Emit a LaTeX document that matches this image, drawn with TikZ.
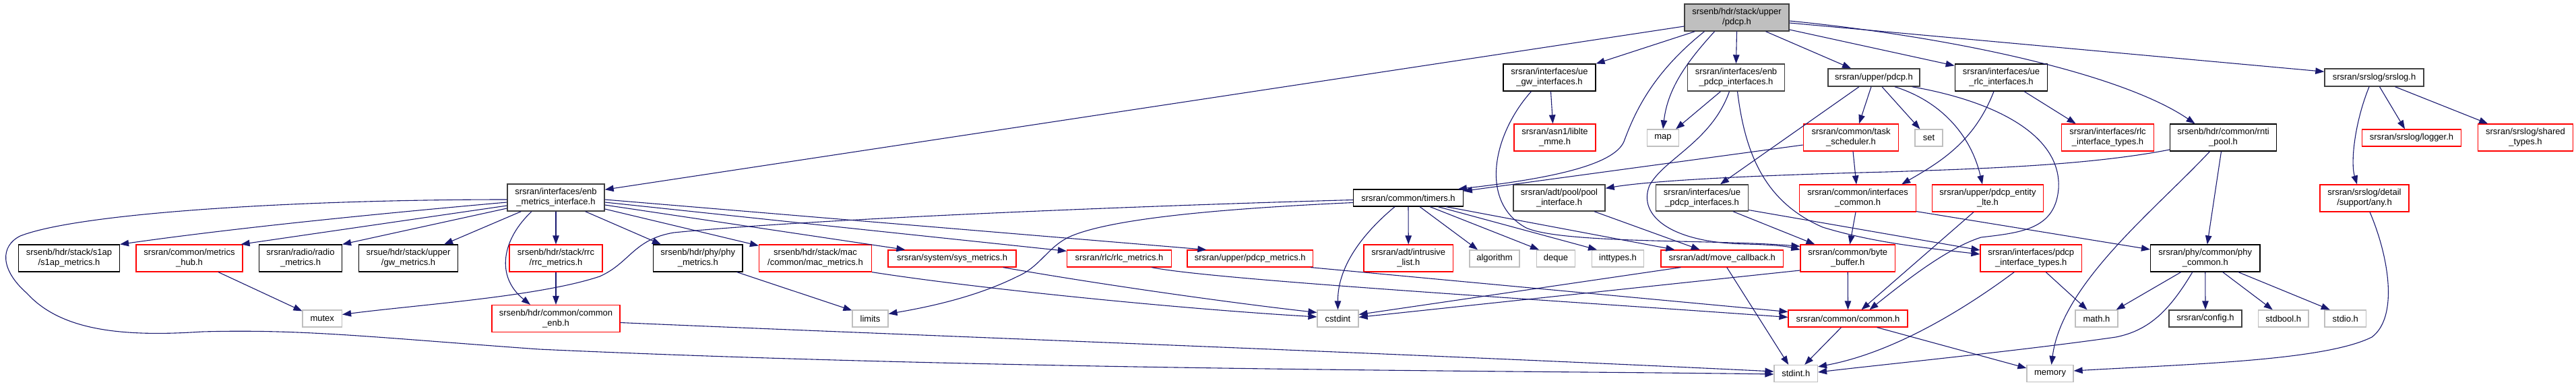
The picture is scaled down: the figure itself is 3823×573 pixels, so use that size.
\documentclass[tikz,border=0pt]{standalone}
\usepackage{fontspec}
\setmainfont{Liberation Sans}
\usetikzlibrary{arrows.meta}
\definecolor{doxblue}{HTML}{191970}
\definecolor{doxred}{HTML}{FF0000}
\definecolor{doxgray}{HTML}{BFBFBF}
\definecolor{doxdark}{HTML}{404040}
\tikzset{
  nd/.style={rectangle, inner sep=0pt, align=center, font=\fontsize{13pt}{15pt}\selectfont, text=black},
  sz/.style 2 args={minimum width=#1pt, minimum height=#2pt},
  blk/.style={nd, draw=black, line width=1.2pt},
  dgr/.style={nd, draw=doxdark, line width=1.4pt},
  rbx/.style={nd, draw=doxred, line width=1.2pt},
  gbx/.style={nd, draw=doxgray, line width=1.2pt},
  rootbx/.style={nd, draw=doxdark, fill=doxgray, line width=1.4pt},
  ed/.style={draw=doxblue, line width=1.1pt, -{Triangle[length=13pt,width=9.5pt]}},
}
\begin{document}
\begin{tikzpicture}[x=1pt,y=-1pt]
\useasboundingbox (0,0) rectangle (3823,573);
% ---- nodes ----
\node[rootbx, sz={155}{40}] (root) at (2577.5,26) {srsenb/hdr/stack/upper\\/pdcp.h};
\node[dgr, sz={144}{40}] (enbm) at (825,293) {srsran/interfaces/enb\\\_metrics\_interface.h};
\node[blk, sz={137}{40}] (uegw) at (2299.5,115) {srsran/interfaces/ue\\\_gw\_interfaces.h};
\node[rbx, sz={121}{40}] (asn1) at (2307.5,204) {srsran/asn1/liblte\\\_mme.h};
\node[gbx, sz={47}{25}] (map) at (2468,204.5) {map};
\node[dgr, sz={144}{40}] (enbpdcp) at (2576.5,115) {srsran/interfaces/enb\\\_pdcp\_interfaces.h};
\node[dgr, sz={136}{26}] (updcp) at (2781,115) {srsran/upper/pdcp.h};
\node[blk, sz={137.5}{40}] (uerlc) at (2970,115) {srsran/interfaces/ue\\\_rlc\_interfaces.h};
\node[dgr, sz={147}{26}] (srslog) at (3523.5,115) {srsran/srslog/srslog.h};
\node[rbx, sz={141.5}{40}] (task) at (2747,204) {srsran/common/task\\\_scheduler.h};
\node[gbx, sz={41}{25}] (set) at (2862.5,204.5) {set};
\node[rbx, sz={137.5}{40}] (rlcif) at (3128,204) {srsran/interfaces/rlc\\\_interface\_types.h};
\node[blk, sz={158}{40}] (mti) at (3299.5,204) {srsenb/hdr/common/rnti\\\_pool.h};
\node[rbx, sz={146.5}{25}] (logger) at (3579,204.5) {srsran/srslog/logger.h};
\node[rbx, sz={140.5}{40}] (shared) at (3748,204) {srsran/srslog/shared\\\_types.h};
\node[blk, sz={162.5}{25}] (timers) at (2090,293.5) {srsran/common/timers.h};
\node[dgr, sz={136}{39}] (poolif) at (2314,293.5) {srsran/adt/pool/pool\\\_interface.h};
\node[dgr, sz={137}{39}] (uepdcp) at (2526,293.5) {srsran/interfaces/ue\\\_pdcp\_interfaces.h};
\node[rbx, sz={173}{40}] (ifcommon) at (2757,294) {srsran/common/interfaces\\\_common.h};
\node[rbx, sz={165.5}{40}] (pdcpent) at (2950,294) {srsran/upper/pdcp\_entity\\\_lte.h};
\node[rbx, sz={132}{40}] (anyh) at (3509,294) {srsran/srslog/detail\\/support/any.h};
\node[blk, sz={150}{40}] (s1ap) at (102.5,383) {srsenb/hdr/stack/s1ap\\/s1ap\_metrics.h};
\node[rbx, sz={158}{40}] (hub) at (281,383) {srsran/common/metrics\\\_hub.h};
\node[blk, sz={123}{40}] (radio) at (446,383) {srsran/radio/radio\\\_metrics.h};
\node[blk, sz={147}{40}] (gwm) at (606,383) {srsue/hdr/stack/upper\\/gw\_metrics.h};
\node[rbx, sz={138}{40}] (rrcm) at (825,383) {srsenb/hdr/stack/rrc\\/rrc\_metrics.h};
\node[blk, sz={132.5}{40}] (phym) at (1035.75,383) {srsenb/hdr/phy/phy\\\_metrics.h};
\node[rbx, sz={167}{40}] (macm) at (1210,383) {srsenb/hdr/stack/mac\\/common/mac\_metrics.h};
\node[rbx, sz={190}{25}] (sysm) at (1413,383.5) {srsran/system/sys\_metrics.h};
\node[rbx, sz={155}{25}] (rlcm) at (1661,383.5) {srsran/rlc/rlc\_metrics.h};
\node[rbx, sz={186.5}{25}] (pdcpm) at (1855.25,383.5) {srsran/upper/pdcp\_metrics.h};
\node[rbx, sz={132.5}{40}] (intr) at (2090.25,383) {srsran/adt/intrusive\\\_list.h};
\node[gbx, sz={74}{25}] (algo) at (2218,383.5) {algorithm};
\node[gbx, sz={57}{25}] (deque) at (2309,383.5) {deque};
\node[gbx, sz={77}{25}] (intt) at (2401,383.5) {inttypes.h};
\node[rbx, sz={181.5}{25}] (movecb) at (2555.75,383.5) {srsran/adt/move\_callback.h};
\node[rbx, sz={140.5}{40}] (bytebuf) at (2742.25,383) {srsran/common/byte\\\_buffer.h};
\node[rbx, sz={150.5}{40}] (pdcpif) at (3014.25,383) {srsran/interfaces/pdcp\\\_interface\_types.h};
\node[blk, sz={162.5}{40}] (phyc) at (3272.75,383) {srsran/phy/common/phy\\\_common.h};
\node[gbx, sz={58.5}{25}] (mutex) at (478.25,472.5) {mutex};
\node[rbx, sz={190}{40}] (cenb) at (825,472.5) {srsenb/hdr/common/common\\\_enb.h};
\node[gbx, sz={53}{25}] (limits) at (1291.5,472.5) {limits};
\node[gbx, sz={61}{25}] (cstdint) at (1985.5,472.5) {cstdint};
\node[rbx, sz={177}{25}] (commonh) at (2742.5,472.5) {srsran/common/common.h};
\node[gbx, sz={63}{25}] (math) at (3111.5,472.5) {math.h};
\node[dgr, sz={108}{25}] (config) at (3273,472.5) {srsran/config.h};
\node[gbx, sz={74.5}{25}] (stdbool) at (3388.75,472.5) {stdbool.h};
\node[gbx, sz={61.5}{25}] (stdio) at (3480.75,472.5) {stdio.h};
\node[gbx, sz={64.5}{25}] (stdint) at (2665.25,554) {stdint.h};
\node[gbx, sz={69}{25}] (memory) at (3042.5,554) {memory};
% ---- edges from root ----
\draw[ed] ([yshift=-13pt]root.west) -- ([yshift=-9pt]enbm.north east);
\draw[ed] ([xshift=16pt]root.south west) -- (uegw.north east);
\draw[ed] ([xshift=-48pt]root.south) .. controls (2450,110) and (2425,170) .. (2410,210) .. controls (2395,245) and (2300,265) .. ([xshift=-8pt]timers.north east);
\draw[ed] ([xshift=-33pt]root.south) .. controls (2505,90) and (2475,130) .. (map.north);
\draw[ed] (root.south) -- (enbpdcp.north);
\draw[ed] ([xshift=43pt]root.south) -- ([xshift=-34pt]updcp.north);
\draw[ed] ([yshift=-18pt]root.east) -- ([yshift=-3pt]uerlc.north west);
\draw[ed] ([yshift=-5pt]root.east) .. controls (2900,55) and (3150,110) .. ([xshift=-42pt]mti.north);
\draw[ed] ([yshift=-8pt]root.east) -- ([yshift=-5pt]srslog.north west);
% ---- second level ----
\draw[ed] ([xshift=2pt]uegw.south) -- ([xshift=-3pt]asn1.north);
\draw[ed] ([xshift=-27pt]uegw.south) .. controls (2215,200) and (2195,300) .. (2265,338) .. controls (2320,362) and (2550,355) .. ([yshift=-3pt]bytebuf.north west);
\draw[ed] ([xshift=-23pt]enbpdcp.south) -- ([xshift=-5pt]map.north east);
\draw[ed] ([xshift=-10pt]enbpdcp.south) .. controls (2540,210) and (2470,235) .. (2448,275) .. controls (2430,320) and (2480,360) .. (2590,362) .. controls (2630,363) and (2650,365) .. ([yshift=-8pt]bytebuf.north west);
\draw[ed] ([xshift=2pt]enbpdcp.south) .. controls (2590,230) and (2620,300) .. (2705,337) .. controls (2780,360) and (2860,368) .. ([yshift=6pt]pdcpif.west);
\draw[ed] ([xshift=-22pt]updcp.south) -- ([xshift=27pt]uepdcp.north);
\draw[ed] ([xshift=-4pt]updcp.south) -- ([xshift=12pt]task.north);
\draw[ed] ([xshift=12pt]updcp.south) -- ([xshift=8pt]set.north west);
\draw[ed] ([xshift=31pt]updcp.south) .. controls (2880,150) and (2925,200) .. ([xshift=-8pt]pdcpent.north);
\draw[ed] ([xshift=-12pt]updcp.south east) .. controls (2960,150) and (3060,200) .. (3055,280) .. controls (3050,340) and (3000,345) .. (2940,352) .. controls (2890,368) and (2830,415) .. ([xshift=32pt]commonh.north);
\draw[ed] ([xshift=34pt]uerlc.south) -- ([xshift=22pt]rlcif.north west);
\draw[ed] ([xshift=-11pt]uerlc.south) .. controls (2930,210) and (2880,240) .. ([xshift=-22pt]ifcommon.north east);
\draw[ed] ([xshift=-7.5pt]srslog.south) .. controls (3495,180) and (3488,240) .. ([xshift=-11pt]anyh.north);
\draw[ed] ([xshift=8pt]srslog.south) -- ([xshift=-10pt]logger.north);
\draw[ed] ([xshift=31pt]srslog.south) -- ([xshift=15pt]shared.north west);
\draw[ed] ([yshift=-11pt]task.west) -- ([yshift=-3pt]timers.north east);
\draw[ed] ([xshift=3pt]task.south) -- ([xshift=-2pt]ifcommon.north);
\draw[ed] ([yshift=-18pt]mti.west) .. controls (3100,245) and (2950,250) .. (2800,255) .. controls (2600,260) and (2450,268) .. ([yshift=-6pt]poolif.north east);
\draw[ed] ([xshift=-3pt]mti.south) -- ([xshift=3pt]phyc.north);
\draw[ed] ([xshift=-20pt]mti.south) .. controls (3200,310) and (3060,420) .. ([xshift=2pt]memory.north);
\draw[ed] ([xshift=8pt]anyh.south) .. controls (3545,380) and (3560,470) .. (3520,500) .. controls (3450,535) and (3250,540) .. ([yshift=4pt]memory.east);
% ---- timers ----
\draw[ed] ([yshift=-3pt]timers.west) .. controls (1700,305) and (1200,325) .. (1000,345) .. controls (940,355) and (935,390) .. (890,410) .. controls (800,440) and (620,452) .. ([yshift=6pt]mutex.east);
\draw[ed] ([yshift=-7pt]timers.west) .. controls (1800,310) and (1650,325) .. (1590,350) .. controls (1555,365) and (1545,395) .. (1510,410) .. controls (1450,440) and (1380,455) .. ([yshift=7pt]limits.east);
\draw[ed] ([xshift=-20pt]timers.south) .. controls (2030,340) and (1985,390) .. (cstdint.north);
\draw[ed] (timers.south) -- (intr.north);
\draw[ed] ([xshift=17pt]timers.south) -- ([xshift=-25pt]algo.north);
\draw[ed] ([xshift=32pt]timers.south) -- ([xshift=-25pt]deque.north);
\draw[ed] ([xshift=44pt]timers.south) -- ([xshift=-31pt]intt.north);
\draw[ed] ([xshift=56pt]timers.south) -- ([xshift=21pt]movecb.north west);
% ---- third level ----
\draw[ed] ([xshift=52pt]poolif.south) -- ([xshift=-33pt]movecb.north);
\draw[ed] ([xshift=46pt]uepdcp.south) -- ([xshift=22pt]bytebuf.north west);
\draw[ed] ([yshift=-18pt]uepdcp.east) -- ([yshift=12pt]pdcpif.west);
\draw[ed] ([xshift=-3pt]ifcommon.south) -- ([xshift=3pt]bytebuf.north);
\draw[ed] ([yshift=1pt]ifcommon.south east) -- ([yshift=13pt]phyc.west);
\draw[ed] ([xshift=-21pt]pdcpent.south) -- ([xshift=20pt]commonh.north);
\draw[ed] ([xshift=30pt]movecb.south west) -- ([yshift=6pt]cstdint.east);
\draw[ed] ([xshift=7pt]movecb.south) -- ([xshift=-11pt]stdint.north);
\draw[ed] ([yshift=-18pt]bytebuf.west) -- ([yshift=2pt]cstdint.east);
\draw[ed] (bytebuf.south) -- (commonh.north);
\draw[ed] ([xshift=22pt]pdcpif.south) -- ([xshift=-14pt]math.north);
\draw[ed] ([xshift=-25pt]pdcpif.south) .. controls (2900,470) and (2800,525) .. ([yshift=-3pt]stdint.north east);
\draw[ed] ([xshift=-36pt]phyc.south) -- ([xshift=-3pt]math.north east);
\draw[ed] ([xshift=-19pt]phyc.south) .. controls (3220,460) and (3190,490) .. (3140,500) .. controls (3000,520) and (2800,540) .. ([yshift=2pt]stdint.east);
\draw[ed] (phyc.south) -- (config.north);
\draw[ed] ([xshift=26pt]phyc.south) -- ([xshift=-16pt]stdbool.north);
\draw[ed] ([xshift=49pt]phyc.south) -- ([xshift=-23pt]stdio.north);
\draw[ed] ([xshift=-10pt]commonh.south) -- ([xshift=13pt]stdint.north);
\draw[ed] ([xshift=43pt]commonh.south) -- ([yshift=8pt]memory.west);
% ---- enb metrics interface ----
\draw[ed] ([yshift=-7pt]enbm.west) .. controls (550,318) and (350,338) .. (s1ap.north east);
\draw[ed] ([yshift=-12pt]enbm.west) -- ([xshift=-3pt]hub.north east);
\draw[ed] ([yshift=-16pt]enbm.west) -- (radio.north east);
\draw[ed] ([xshift=21pt]enbm.south west) -- ([xshift=-21pt]gwm.north east);
\draw[ed] ([xshift=-36pt]enbm.south) .. controls (745,355) and (735,410) .. ([xshift=-38pt]cenb.north);
\draw[ed] (enbm.south) -- (rrcm.north);
\draw[ed] ([yshift=-3pt]enbm.west) .. controls (450,296) and (120,315) .. (30,350) .. controls (0,365) and (0,400) .. (40,435) .. controls (90,490) and (180,500) .. (300,492) .. controls (450,488) and (550,500) .. (800,518) .. controls (1500,550) and (2300,550) .. ([yshift=-1pt]stdint.west);
\draw[ed] ([xshift=-29pt]enbm.south east) -- ([xshift=12pt]phym.north west);
\draw[ed] ([yshift=-17pt]enbm.east) -- ([yshift=-2pt]macm.north west);
\draw[ed] ([yshift=-11pt]enbm.east) -- ([xshift=26pt]sysm.north west);
\draw[ed] ([yshift=-7pt]enbm.east) -- ([yshift=-2pt]rlcm.north west);
\draw[ed] ([yshift=-3pt]enbm.east) -- ([xshift=29pt]pdcpm.north west);
\draw[ed] ([xshift=43pt]hub.south) -- ([yshift=-2pt]mutex.north west);
\draw[ed] (rrcm.south) -- (cenb.north);
\draw[ed] ([xshift=-9pt]phym.south east) -- ([yshift=-1pt]limits.north west);
\draw[ed] ([yshift=-6pt]cenb.east) .. controls (1300,495) and (2100,525) .. ([yshift=3pt]stdint.west);
\draw[ed] (macm.south east) .. controls (1450,428) and (1750,458) .. ([yshift=2.5pt]cstdint.west);
\draw[ed] ([xshift=-20pt]sysm.south east) .. controls (1650,425) and (1850,452) .. ([yshift=9pt]cstdint.west);
\draw[ed] ([xshift=-30pt]rlcm.south east) .. controls (1800,415) and (2300,445) .. ([yshift=2pt]commonh.west);
\draw[ed] ([xshift=-4pt]pdcpm.south east) -- ([yshift=10pt]commonh.west);
\end{tikzpicture}
\end{document}
